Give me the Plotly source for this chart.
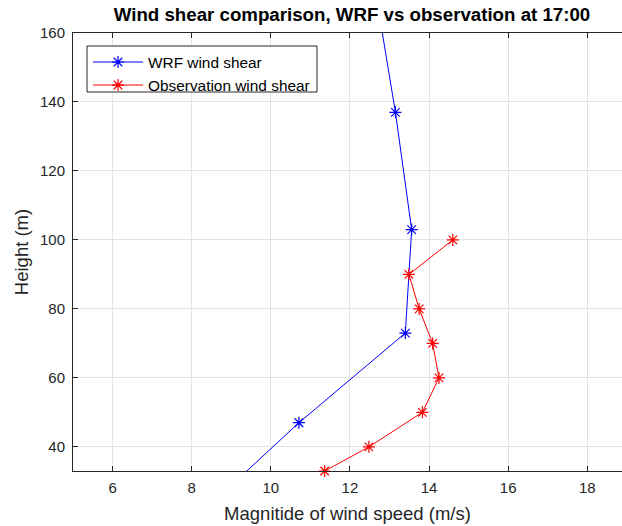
import plotly.graph_objects as go

# WRF wind shear (speed m/s, height m)
wrf_speed = [8.17, 10.71, 13.40, 13.56, 13.15, 12.53]
wrf_height = [20, 47, 73, 103, 137, 180]

# Observation wind shear
obs_speed = [11.36, 12.48, 13.83, 14.25, 14.09, 13.75, 13.49, 14.60]
obs_height = [33, 40, 50, 60, 70, 80, 90, 100]

x_ticks = [6, 8, 10, 12, 14, 16, 18]
y_ticks = [40, 60, 80, 100, 120, 140, 160]

FONT = "Liberation Sans, Arial, Helvetica, sans-serif"
AX = "#262626"

fig = go.Figure()
fig.add_trace(go.Scatter(
    x=wrf_speed, y=wrf_height, mode="lines+markers", name="WRF wind shear",
    line=dict(color="#0000ff", width=1),
    marker=dict(symbol="asterisk", size=10, line=dict(color="#0000ff", width=1.2)),
    cliponaxis=True,
))
fig.add_trace(go.Scatter(
    x=obs_speed, y=obs_height, mode="lines+markers", name="Observation wind shear",
    line=dict(color="#ff0000", width=1),
    marker=dict(symbol="asterisk", size=10, line=dict(color="#ff0000", width=1.2)),
    cliponaxis=False,
))

W, H = 622, 526
L, T, B = 73, 33, 55
R = 0
plot_w = W - L - R
plot_h = H - T - B

def px_x(p):
    return (p - L) / plot_w

def px_y(p):
    return 1 - (p - T) / plot_h

# legend frame (drawn as a shape, legend text drawn on top)
fig.add_shape(type="rect", xref="paper", yref="paper",
              x0=px_x(87), x1=px_x(317), y0=px_y(92), y1=px_y(46),
              fillcolor="white", line=dict(color=AX, width=1), layer="above")

fig.update_layout(
    width=W, height=H,
    margin=dict(l=L, r=R, t=T, b=B, pad=0),
    paper_bgcolor="white", plot_bgcolor="white",
    font=dict(family=FONT, color=AX, size=15),
    title=dict(text="<b>Wind shear comparison, WRF vs observation at 17:00</b>",
               x=352 / W, xref="container", xanchor="center",
               y=1 - 14 / H, yref="container", yanchor="middle",
               font=dict(size=18.7, color="black", family=FONT)),
    showlegend=True,
    legend=dict(x=px_x(88), y=px_y(45.5), xanchor="left", yanchor="top",
                bgcolor="rgba(0,0,0,0)", borderwidth=0,
                font=dict(size=15.4, color="black", family=FONT),
                tracegroupgap=0, itemwidth=50),
)
fig.update_xaxes(
    range=[5, 5 + (plot_w + 0.5) / 39.6], tickvals=x_ticks, ticktext=[str(v) for v in x_ticks],
    showgrid=True, gridcolor="#e3e3e3", gridwidth=1, zeroline=False,
    showline=True, linecolor=AX, linewidth=1, mirror="ticks",
    ticks="inside", ticklen=5, tickcolor=AX, tickfont=dict(size=15, color=AX),
    ticklabelstandoff=3,
    title=dict(text="Magnitide of wind speed (m/s)", font=dict(size=18.5, color=AX), standoff=12),
)
fig.update_yaxes(
    range=[33, 160], tickvals=y_ticks, ticktext=[str(v) for v in y_ticks],
    showgrid=True, gridcolor="#e3e3e3", gridwidth=1, zeroline=False,
    showline=True, linecolor=AX, linewidth=1, mirror=False,
    ticks="inside", ticklen=5, tickcolor=AX, tickfont=dict(size=15, color=AX),
    ticklabelstandoff=4,
    title=dict(text="Height (m)", font=dict(size=18.5, color=AX), standoff=6),
)

fig.write_html("out.html")
